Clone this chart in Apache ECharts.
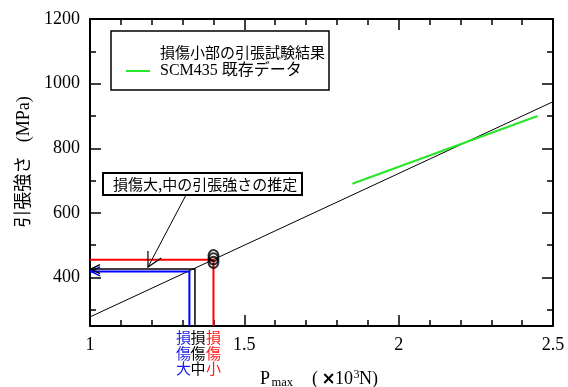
<!DOCTYPE html>
<html>
<head>
<meta charset="utf-8">
<script src="https://cdn.jsdelivr.net/npm/echarts@6/dist/echarts.min.js"></script>
<style>
  html, body { margin: 0; padding: 0; background: #fff; }
  #chart { width: 568px; height: 387px; }
</style>
</head>
<body>
<div id="chart"></div>
<script>
// axis ranges and tick positions
const xMin = 1, xMax = 2.5, xStep = 0.5;
const yMin = 250, yMax = 1200;
const yLabelTicks = [400, 600, 800, 1000, 1200];
const yMinorTicks = [300, 500, 700, 900, 1100];

// fitted relation between P_max and tensile strength
const fitP = [1, 2.5];
const fitStrength = [278, 944];

// SCM435 existing data
const scmP = [1.85, 2.45];
const scmStrength = [690, 900];

// tensile test results of the slightly damaged parts
const testP = [1.4, 1.4, 1.4];
const testStrength = [468, 458, 447];

// strengths estimated from the fitted line
const estNames = ['損傷大', '損傷中', '損傷小'];
const estP = [1.322, 1.34, 1.4];
const estStrength = [419, 426, 455];

// legend / annotation texts
const legendTest = '損傷小部の引張試験結果';
const legendScm = 'SCM435 既存データ';
const noteText = '損傷大,中の引張強さの推定';

// drawing styles for the estimate guide lines
const estStyles = [
  { color: '#0000ff', text: '#1c1ce6', width: 2, arrow: true, labelDx: -6 },
  { color: '#000000', text: '#000000', width: 1.5, arrow: true, labelDx: 3 },
  { color: '#ff0000', text: '#ff1a1a', width: 2, arrow: false, labelDx: 0 }
];

const SERIF = "'Liberation Serif', 'Noto Sans CJK JP', serif";
const SANS = "'Noto Sans CJK JP', sans-serif";
const FRAME = { show: true, lineStyle: { color: '#000', width: 2 } };

const chart = echarts.init(document.getElementById('chart'), null, { renderer: 'canvas' });

function xAxisDef(position, labels) {
  return {
    type: 'value', position, min: xMin, max: xMax, interval: xStep,
    axisLine: FRAME,
    axisTick: { show: true, inside: true, length: 11, lineStyle: { color: '#000', width: 1.5 } },
    minorTick: { show: true, splitNumber: 5, length: 6, lineStyle: { color: '#000', width: 1.5 } },
    axisLabel: { show: labels, margin: 10, color: '#000', fontFamily: SERIF, fontSize: 18,
                 formatter: v => String(v) },
    splitLine: { show: false }, minorSplitLine: { show: false }
  };
}
function yAxisDef(position, ticks, len, labels, line) {
  return {
    type: 'value', position, min: yMin, max: yMax,
    axisLine: line ? FRAME : { show: false },
    axisTick: { show: true, inside: true, length: len, customValues: ticks, lineStyle: { color: '#000', width: 1.5 } },
    axisLabel: { show: labels, customValues: yLabelTicks, margin: 10, color: '#000', fontFamily: SERIF, fontSize: 18,
                 formatter: v => String(v) },
    splitLine: { show: false }
  };
}

// annotation arrow geometry (box bottom -> guide lines)
const noteFrom = [186, 195], noteTip = [148, 267];
function arrowHead(tip, from, len, ang) {
  const a = Math.atan2(from[1] - tip[1], from[0] - tip[0]);
  return [
    [tip[0] + len * Math.cos(a - ang), tip[1] + len * Math.sin(a - ang)],
    tip,
    [tip[0] + len * Math.cos(a + ang), tip[1] + len * Math.sin(a + ang)]
  ];
}

const option = {
  animation: false,
  backgroundColor: '#fff',
  grid: { left: 90, right: 15, top: 19, bottom: 61 },
  xAxis: [xAxisDef('bottom', true), xAxisDef('top', false)],
  yAxis: [
    yAxisDef('left', yLabelTicks, 11, true, true),
    yAxisDef('left', yMinorTicks, 6, false, false),
    yAxisDef('right', yLabelTicks, 11, false, true),
    yAxisDef('right', yMinorTicks, 6, false, false)
  ],
  series: [
    {
      name: 'fit', type: 'line', xAxisIndex: 0, yAxisIndex: 0,
      data: fitP.map((p, i) => [p, fitStrength[i]]),
      showSymbol: false, symbol: 'none',
      lineStyle: { color: '#000', width: 1 }, z: 2
    },
    {
      name: 'estimate', type: 'custom', xAxisIndex: 0, yAxisIndex: 0,
      data: estP.map((p, i) => [p, estStrength[i], i]),
      z: 3,
      renderItem(params, api) {
        const i = api.value(2);
        const st = estStyles[i];
        const pt = api.coord([api.value(0), api.value(1)]);
        const left = api.coord([xMin, api.value(1)]);
        const bottom = api.coord([api.value(0), yMin]);
        const children = [{
          type: 'polyline',
          shape: { points: [left, pt, bottom] },
          style: { stroke: st.color, lineWidth: st.width, fill: null }
        }];
        if (st.arrow) {
          children.push({
            type: 'polyline',
            shape: { points: [[left[0] + 10, left[1] - 4.5], [left[0] + 1, left[1]], [left[0] + 10, left[1] + 4.5]] },
            style: { stroke: st.color, lineWidth: 1.5, fill: null }
          });
        }
        children.push({
          type: 'text',
          style: {
            text: estNames[i].split('').join('\n'),
            x: bottom[0] + st.labelDx, y: bottom[1] + 4,
            align: 'center', verticalAlign: 'top',
            fill: st.text, font: '15px ' + SANS, lineHeight: 15.5
          }
        });
        return { type: 'group', children };
      }
    },
    {
      name: legendTest, type: 'scatter', xAxisIndex: 0, yAxisIndex: 0,
      data: testP.map((p, i) => [p, testStrength[i]]),
      symbol: 'circle', symbolSize: [10, 11],
      itemStyle: { color: 'rgba(0,0,0,0)', borderColor: '#000', borderWidth: 2 },
      z: 4
    },
    {
      name: legendScm, type: 'line', xAxisIndex: 0, yAxisIndex: 0,
      data: scmP.map((p, i) => [p, scmStrength[i]]),
      showSymbol: false, symbol: 'none',
      lineStyle: { color: '#28e628', width: 2 }, z: 5
    }
  ],
  graphic: [
    // legend box
    { type: 'rect', shape: { x: 111, y: 31, width: 218, height: 59 },
      style: { fill: '#fff', stroke: '#000', lineWidth: 1.5 }, z: 10 },
    { type: 'text', x: 160, y: 52, z: 11,
      style: { text: legendTest, font: '15px ' + SANS, fill: '#000', verticalAlign: 'middle' } },
    { type: 'line', shape: { x1: 126, y1: 71, x2: 150, y2: 71 }, z: 11,
      style: { stroke: '#28e628', lineWidth: 2 } },
    { type: 'text', x: 160, y: 71, z: 11,
      style: { text: legendScm, font: '16px ' + SERIF, fill: '#000', verticalAlign: 'middle' } },
    // annotation box and arrow
    { type: 'rect', shape: { x: 103, y: 173, width: 199, height: 22 },
      style: { fill: '#fff', stroke: '#000', lineWidth: 2 }, z: 10 },
    { type: 'text', x: 113, y: 184.5, z: 11,
      style: { text: noteText, font: '15px ' + SANS, fill: '#000', verticalAlign: 'middle' } },
    { type: 'line', shape: { x1: noteFrom[0], y1: noteFrom[1], x2: noteTip[0], y2: noteTip[1] }, z: 10,
      style: { stroke: '#000', lineWidth: 1 } },
    { type: 'polyline', shape: { points: arrowHead(noteTip, noteFrom, 16, 0.49) }, z: 10,
      style: { stroke: '#000', lineWidth: 1.2, fill: null } },
    // y axis title
    { type: 'text', x: 24, y: 162, rotation: Math.PI / 2, z: 10,
      style: { text: '引張強さ   (MPa)', font: '18px ' + SERIF, fill: '#000', align: 'center', verticalAlign: 'middle' } },
    // x axis title: P_max (×10^3 N)
    { type: 'text', x: 260, y: 379, z: 10, style: { text: 'P', font: '18px ' + SERIF, fill: '#000', verticalAlign: 'middle' } },
    { type: 'text', x: 271.5, y: 383, z: 10, style: { text: 'max', font: '12.5px ' + SERIF, fill: '#000', verticalAlign: 'middle' } },
    { type: 'text', x: 312, y: 379, z: 10, style: { text: '(', font: '18px ' + SERIF, fill: '#000', verticalAlign: 'middle' } },
    { type: 'text', x: 321.5, y: 379.5, z: 10, style: { text: '×', font: 'bold 17px ' + "'DejaVu Sans', sans-serif", fill: '#000', verticalAlign: 'middle' } },
    { type: 'text', x: 335, y: 379, z: 10, style: { text: '10', font: '18px ' + SERIF, fill: '#000', verticalAlign: 'middle' } },
    { type: 'text', x: 353.5, y: 375, z: 10, style: { text: '3', font: '12px ' + SERIF, fill: '#000', verticalAlign: 'middle' } },
    { type: 'text', x: 359, y: 379, z: 10, style: { text: 'N)', font: '18px ' + SERIF, fill: '#000', verticalAlign: 'middle' } }
  ]
};

chart.setOption(option);
</script>
</body>
</html>
